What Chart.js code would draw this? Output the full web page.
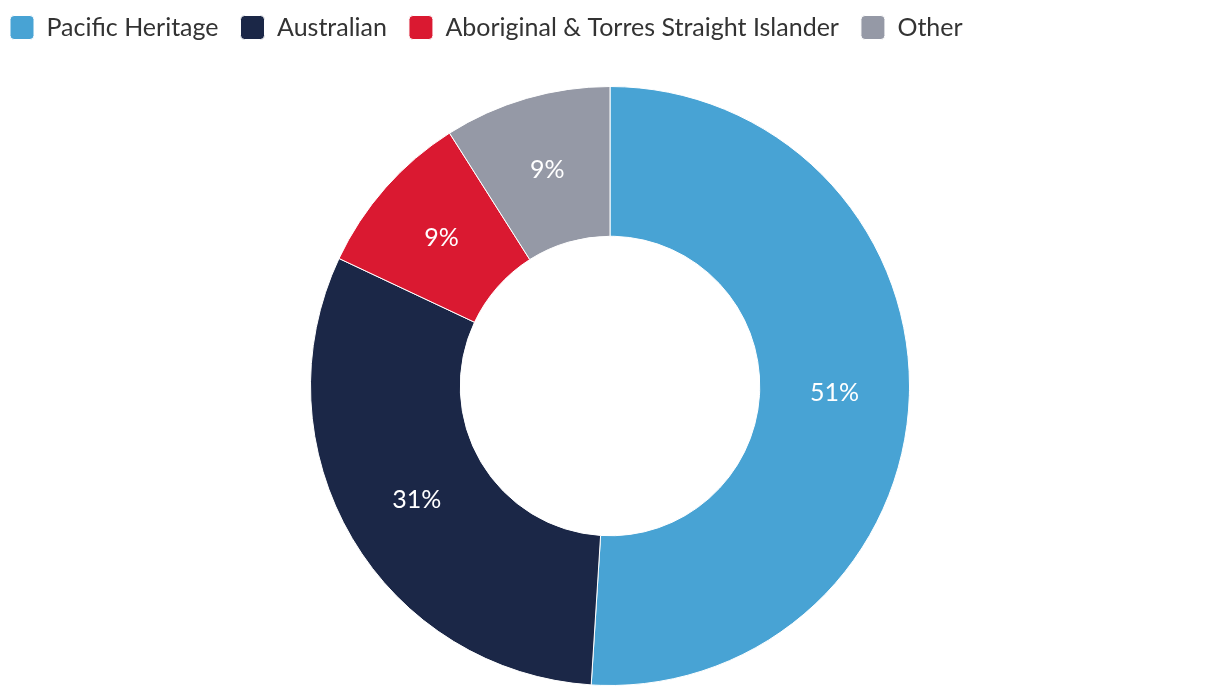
<!DOCTYPE html>
<html>
<head>
<meta charset="utf-8">
<script src="https://cdn.jsdelivr.net/npm/chart.js@4/dist/chart.umd.min.js"></script>
<style>
  html, body { margin: 0; padding: 0; background: #fff; }
  #wrap { width: 1220px; height: 696px; }
</style>
</head>
<body>
<div id="wrap"><canvas id="chart"></canvas></div>
<script>
// data
const labels = ["Pacific Heritage", "Australian", "Aboriginal & Torres Straight Islander", "Other"];
const shares = [51, 31, 9, 9];
const colours = ["#48a3d4", "#1b2747", "#da1931", "#9599a6"];

// draws "NN%" in the middle of each slice
const sliceLabels = {
  id: "sliceLabels",
  afterDatasetsDraw(chart) {
    const ctx = chart.ctx;
    const meta = chart.getDatasetMeta(0);
    ctx.save();
    ctx.fillStyle = "#fff";
    ctx.font = "25px Lato, sans-serif";
    ctx.textAlign = "center";
    ctx.textBaseline = "middle";
    meta.data.forEach((arc, i) => {
      const pos = arc.tooltipPosition();
      ctx.fillText(shares[i] + "%", pos.x, pos.y);
    });
    ctx.restore();
  },
};

// leave some room under the legend
const legendGap = {
  id: "legendGap",
  beforeInit(chart) {
    const fit = chart.legend.fit;
    chart.legend.fit = function () {
      fit.call(this);
      this.height = 93;
    };
  },
};

new Chart(document.getElementById("chart"), {
  type: "doughnut",
  data: {
    labels,
    datasets: [{
      data: shares,
      backgroundColor: colours,
      borderColor: "#fff",
      borderWidth: 1,
    }],
  },
  options: {
    responsive: true,
    maintainAspectRatio: false,
    animation: false,
    cutout: "50%",
    layout: { padding: { top: -7, left: -12, right: -12, bottom: 10 } },
    plugins: {
      legend: {
        position: "top",
        align: "start",
        labels: {
          color: "#333",
          font: { family: "Lato, sans-serif", size: 25 },
          boxWidth: 24,
          boxHeight: 24,
          padding: 22,
          useBorderRadius: true,
          borderRadius: 4,
        },
      },
      tooltip: { enabled: false },
    },
  },
  plugins: [legendGap, sliceLabels],
});
</script>
</body>
</html>
